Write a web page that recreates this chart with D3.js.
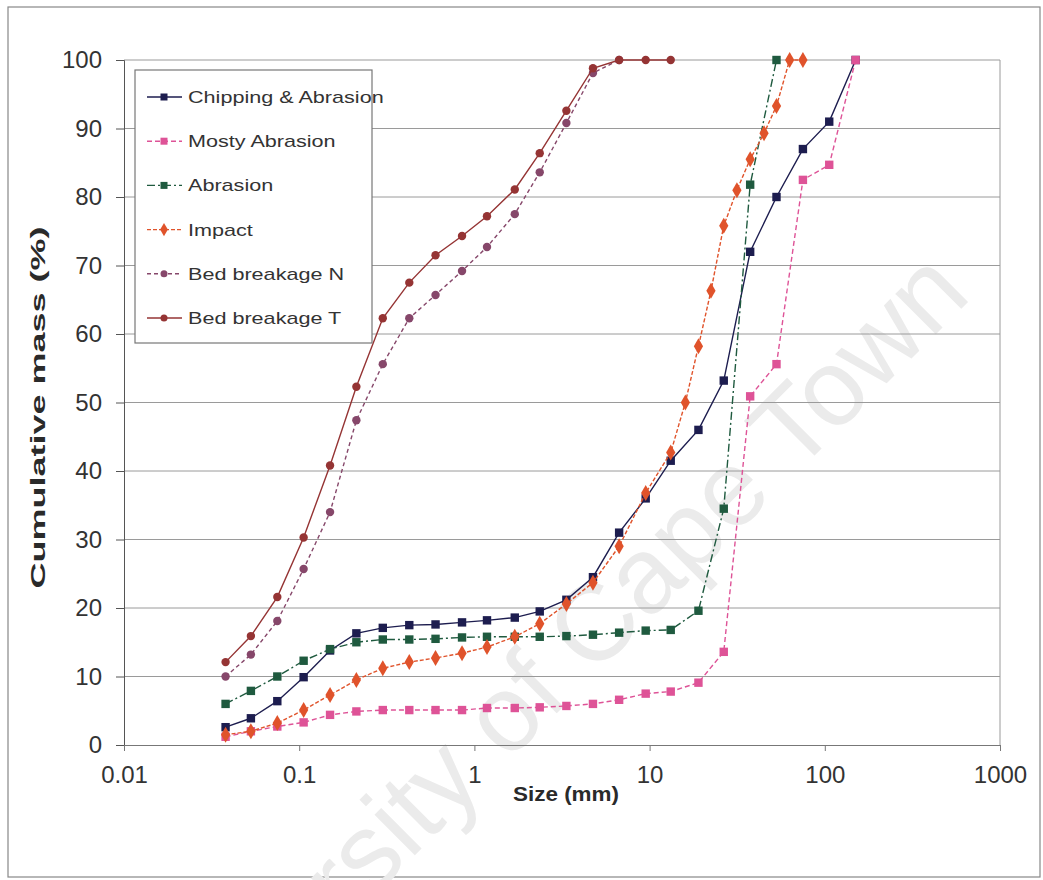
<!DOCTYPE html>
<html>
<head>
<meta charset="utf-8">
<script src="https://cdn.jsdelivr.net/npm/d3@7"></script>
<style>
  body { margin: 0; background: #fff; }
  text { font-family: "Liberation Sans", Arial, sans-serif; }
</style>
</head>
<body>
<script>
// DATA
var sizesFine = [0.038, 0.053, 0.075, 0.106, 0.15, 0.212, 0.3, 0.425, 0.6, 0.85, 1.18, 1.7, 2.36, 3.35, 4.75, 6.7, 9.5, 13.2];
var sizesCoarse = [19, 26.5, 37.5, 53, 75, 106, 150];
var sizesImpact = [16, 19, 22.4, 26.5, 31.5, 37.5, 45, 53, 63, 75];

var chipping = [2.6, 3.9, 6.4, 9.9, 13.8, 16.3, 17.1, 17.5, 17.6, 17.9, 18.2, 18.6, 19.5, 21.2, 24.5, 31.0, 36.0, 41.5,
  46.0, 53.2, 72.0, 80.0, 87.0, 91.0, 100];
var mostlyAbrasion = [1.2, 2.0, 2.7, 3.3, 4.4, 4.9, 5.1, 5.1, 5.1, 5.1, 5.4, 5.4, 5.5, 5.7, 6.0, 6.6, 7.5, 7.8,
  9.1, 13.6, 50.9, 55.6, 82.5, 84.7, 100];
var abrasion = [6.0, 7.9, 10.0, 12.3, 14.0, 15.0, 15.4, 15.4, 15.5, 15.7, 15.8, 15.8, 15.8, 15.9, 16.1, 16.4, 16.7, 16.8,
  19.6, 34.5, 81.8, 100];
var impact = [1.5, 2.0, 3.2, 5.1, 7.3, 9.5, 11.2, 12.1, 12.7, 13.4, 14.3, 15.8, 17.7, 20.6, 23.7, 29.0, 36.8, 42.7,
  50.0, 58.2, 66.3, 75.8, 81.0, 85.5, 89.3, 93.3, 100, 100];
var bedN = [10.0, 13.2, 18.1, 25.7, 34.0, 47.4, 55.6, 62.3, 65.7, 69.2, 72.7, 77.5, 83.6, 90.8, 98.1, 100];
var bedT = [12.1, 15.9, 21.6, 30.3, 40.8, 52.3, 62.3, 67.5, 71.5, 74.3, 77.2, 81.1, 86.4, 92.6, 98.8, 100, 100, 100];

var xTicks = [0.01, 0.1, 1, 10, 100, 1000];
var yTicks = [0, 10, 20, 30, 40, 50, 60, 70, 80, 90, 100];

// series: name, sizes, values, style
var series = [
  { name: "Chipping & Abrasion", x: sizesFine.concat(sizesCoarse), y: chipping, color: "#1d1d4f", dash: null, marker: "square" },
  { name: "Mosty Abrasion", x: sizesFine.concat(sizesCoarse), y: mostlyAbrasion, color: "#de5397", dash: "5,3", marker: "square" },
  { name: "Abrasion", x: sizesFine.concat(sizesCoarse.slice(0, 4)), y: abrasion, color: "#1f5a3f", dash: "8,3,2,3", marker: "square" },
  { name: "Impact", x: sizesFine.concat(sizesImpact), y: impact, color: "#e0532b", dash: "4,2", marker: "diamond" },
  { name: "Bed breakage N", x: sizesFine.slice(0, 16), y: bedN, color: "#86476a", dash: "4,3", marker: "circle" },
  { name: "Bed breakage T", x: sizesFine, y: bedT, color: "#953434", dash: null, marker: "circle" }
];

var W = 1043, H = 880;
var plotL = 124, plotR = 1000, plotT = 60, plotB = 745;

var svg = d3.select("body").append("svg")
  .attr("width", W)
  .attr("height", H);

var x = d3.scaleLog().domain([0.01, 1000]).range([plotL, plotR]);
var y = d3.scaleLinear().domain([0, 100]).range([plotB, plotT]);

// chart area frame
svg.append("rect")
  .attr("x", 8).attr("y", 7)
  .attr("width", 1032).attr("height", 870)
  .attr("fill", "none")
  .attr("stroke", "#888")
  .attr("stroke-width", 1.2);

// watermark
svg.append("text")
  .attr("transform", "translate(562,708) rotate(-45)")
  .attr("text-anchor", "middle")
  .attr("font-size", 108)
  .attr("fill", "#ebebeb")
  .text("University of Cape Town");

// gridlines
svg.append("g").selectAll("line")
  .data(yTicks.slice(1))
  .enter().append("line")
  .attr("x1", plotL).attr("x2", plotR)
  .attr("y1", function (d) { return y(d); })
  .attr("y2", function (d) { return y(d); })
  .attr("stroke", "#9a9a9a")
  .attr("stroke-width", 1);

// right border of plot area
svg.append("line")
  .attr("x1", plotR).attr("x2", plotR)
  .attr("y1", plotT).attr("y2", plotB)
  .attr("stroke", "#9a9a9a");

// axes
var yAxis = d3.axisLeft(y).tickValues(yTicks).tickSize(8).tickPadding(14);
var gy = svg.append("g").attr("transform", "translate(" + plotL + ",0)").call(yAxis);
gy.selectAll("text").attr("font-size", 24).attr("fill", "#333").attr("font-family", "Liberation Sans, Arial, sans-serif");
gy.selectAll("line, path").attr("stroke", "#555");

var xAxis = d3.axisBottom(x).tickValues(xTicks).tickSize(6).tickPadding(15)
  .tickFormat(function (d) { return d < 1 ? String(d) : d3.format("d")(d); });
var gx = svg.append("g").attr("transform", "translate(0," + plotB + ")").call(xAxis);
gx.selectAll("text").attr("font-size", 24).attr("fill", "#333").attr("font-family", "Liberation Sans, Arial, sans-serif");
gx.selectAll("line, path").attr("stroke", "#777");

// axis titles (scan is stretched along the text direction)
svg.append("text")
  .attr("transform", "translate(45," + ((plotT + plotB) / 2 + 5) + ") rotate(-90)")
  .attr("text-anchor", "middle")
  .attr("font-size", 21)
  .attr("font-weight", "bold")
  .attr("fill", "#2a2a2a")
  .attr("textLength", 362)
  .attr("lengthAdjust", "spacingAndGlyphs")
  .text("Cumulative mass (%)");

svg.append("text")
  .attr("x", 566).attr("y", 801)
  .attr("text-anchor", "middle")
  .attr("font-size", 21)
  .attr("font-weight", "bold")
  .attr("fill", "#2a2a2a")
  .attr("textLength", 106)
  .attr("lengthAdjust", "spacingAndGlyphs")
  .text("Size (mm)");

// draw a marker at (0,0) inside g
function drawMarker(g, s, r) {
  if (s.marker === "square") {
    g.append("rect").attr("x", -r).attr("y", -r).attr("width", 2 * r).attr("height", 2 * r).attr("fill", s.color);
  } else if (s.marker === "diamond") {
    g.append("path").attr("d", d3.symbol(d3.symbolDiamond, r * r * 4.2)()).attr("fill", s.color);
  } else {
    g.append("circle").attr("r", r).attr("fill", s.color);
  }
}

var line = d3.line()
  .x(function (d) { return x(d[0]); })
  .y(function (d) { return y(d[1]); });

series.forEach(function (s) {
  var pts = s.x.map(function (v, i) { return [v, s.y[i]]; });
  var g = svg.append("g");
  g.append("path")
    .datum(pts)
    .attr("d", line)
    .attr("fill", "none")
    .attr("stroke", s.color)
    .attr("stroke-width", 1.4)
    .attr("stroke-dasharray", s.dash);
  pts.forEach(function (p) {
    var m = g.append("g").attr("transform", "translate(" + x(p[0]) + "," + y(p[1]) + ")");
    drawMarker(m, s, 4.2);
  });
});

// legend
var legend = svg.append("g");
legend.append("rect")
  .attr("x", 135).attr("y", 70)
  .attr("width", 237).attr("height", 273)
  .attr("fill", "#fff")
  .attr("stroke", "#777")
  .attr("stroke-width", 1.2);

series.forEach(function (s, i) {
  var ly = 97 + i * 44.2;
  var item = legend.append("g").attr("transform", "translate(0," + ly + ")");
  item.append("line")
    .attr("x1", 147).attr("x2", 182)
    .attr("stroke", s.color)
    .attr("stroke-width", 1.4)
    .attr("stroke-dasharray", s.dash);
  var m = item.append("g").attr("transform", "translate(164,0)");
  drawMarker(m, s, 3.5);
  item.append("text")
    .attr("transform", "translate(188,6) scale(1.35,1)")
    .attr("font-size", 16)
    .attr("fill", "#333")
    .text(s.name);
});
</script>
</body>
</html>
